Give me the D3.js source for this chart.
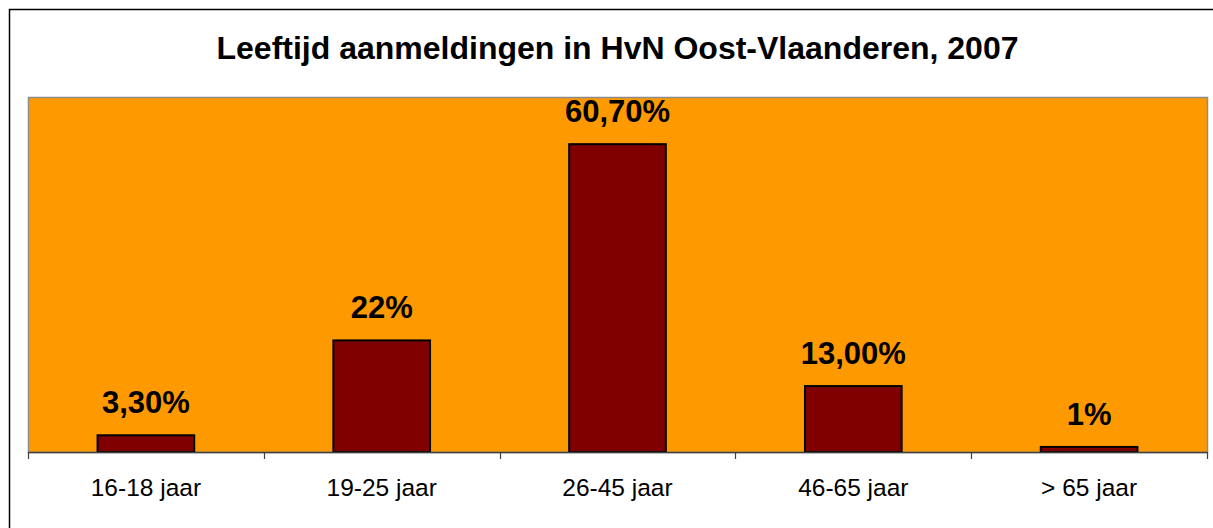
<!DOCTYPE html>
<html>
<head>
<meta charset="utf-8">
<script src="https://cdn.jsdelivr.net/npm/d3@7"></script>
<style>
  body { margin: 0; background: white; }
  svg { display: block; }
</style>
</head>
<body>
<script>
// Data
var categories = ["16-18 jaar", "19-25 jaar", "26-45 jaar", "46-65 jaar", "> 65 jaar"];
var values = [3.3, 22, 60.7, 13.0, 1];
var valueLabels = ["3,30%", "22%", "60,70%", "13,00%", "1%"];
var title = "Leeftijd aanmeldingen in HvN Oost-Vlaanderen, 2007";

var width = 1213, height = 528;
var margin = { top: 97, right: 6, bottom: 76, left: 28 };

var svg = d3.select("body").append("svg")
    .attr("width", width)
    .attr("height", height);

// Outer chart frame (only top/left visible)
svg.append("rect")
    .attr("x", 9.5).attr("y", 9.5)
    .attr("width", width + 20).attr("height", height + 20)
    .attr("fill", "white")
    .attr("stroke", "black")
    .attr("stroke-width", 1.5);

var x = d3.scaleBand()
    .domain(categories)
    .range([margin.left, width - margin.right])
    .paddingInner(0.59)
    .paddingOuter(0.295);

var band = d3.scaleBand()
    .domain(categories)
    .range([margin.left, width - margin.right]);

var y = d3.scaleLinear()
    .domain([0, 70])
    .range([height - margin.bottom, margin.top]);

// Plot area
svg.append("rect")
    .attr("x", margin.left + 0.5)
    .attr("y", margin.top + 0.5)
    .attr("width", width - margin.left - margin.right)
    .attr("height", height - margin.top - margin.bottom)
    .attr("fill", "#FF9900")
    .attr("stroke", "#8c8c8c")
    .attr("stroke-width", 1.5);

// Title
svg.append("text")
    .attr("x", (margin.left + width - margin.right) / 2)
    .attr("y", 59)
    .attr("text-anchor", "middle")
    .style("font-family", "Liberation Sans, Arial, sans-serif")
    .style("font-weight", "bold")
    .style("font-size", "32px")
    .text(title);

// Bars
svg.append("g")
  .selectAll("rect")
  .data(values)
  .join("rect")
    .attr("x", (d, i) => x(categories[i]))
    .attr("y", d => y(d))
    .attr("width", x.bandwidth())
    .attr("height", d => y(0) - y(d))
    .attr("fill", "#800000")
    .attr("stroke", "black")
    .attr("stroke-width", 2);

// Value labels
svg.append("g")
  .selectAll("text")
  .data(values)
  .join("text")
    .attr("x", (d, i) => x(categories[i]) + x.bandwidth() / 2)
    .attr("y", d => y(d) - 22)
    .attr("text-anchor", "middle")
    .style("font-family", "Liberation Sans, Arial, sans-serif")
    .style("font-weight", "bold")
    .style("font-size", "31px")
    .text((d, i) => valueLabels[i]);

// X axis
var xAxis = g => g
    .attr("transform", `translate(0,${height - margin.bottom})`)
    .call(d3.axisBottom(band).tickSize(0).tickPadding(0).tickFormat(""))
    .call(g => g.select(".domain").attr("stroke", "#404040").attr("stroke-width", 1.5));
svg.append("g").call(xAxis);

// Tick marks at category boundaries
var bounds = categories.map(c => band(c)).concat([width - margin.right]);
svg.append("g")
  .selectAll("line")
  .data(bounds)
  .join("line")
    .attr("x1", d => Math.round(d) + 0.5)
    .attr("x2", d => Math.round(d) + 0.5)
    .attr("y1", height - margin.bottom)
    .attr("y2", height - margin.bottom + 7)
    .attr("stroke", "#404040")
    .attr("stroke-width", 1.2);

// Category labels
svg.append("g")
  .selectAll("text")
  .data(categories)
  .join("text")
    .attr("x", d => band(d) + band.bandwidth() / 2)
    .attr("y", 496)
    .attr("text-anchor", "middle")
    .style("font-family", "Liberation Sans, Arial, sans-serif")
    .style("font-size", "24.5px")
    .text(d => d);
</script>
</body>
</html>
